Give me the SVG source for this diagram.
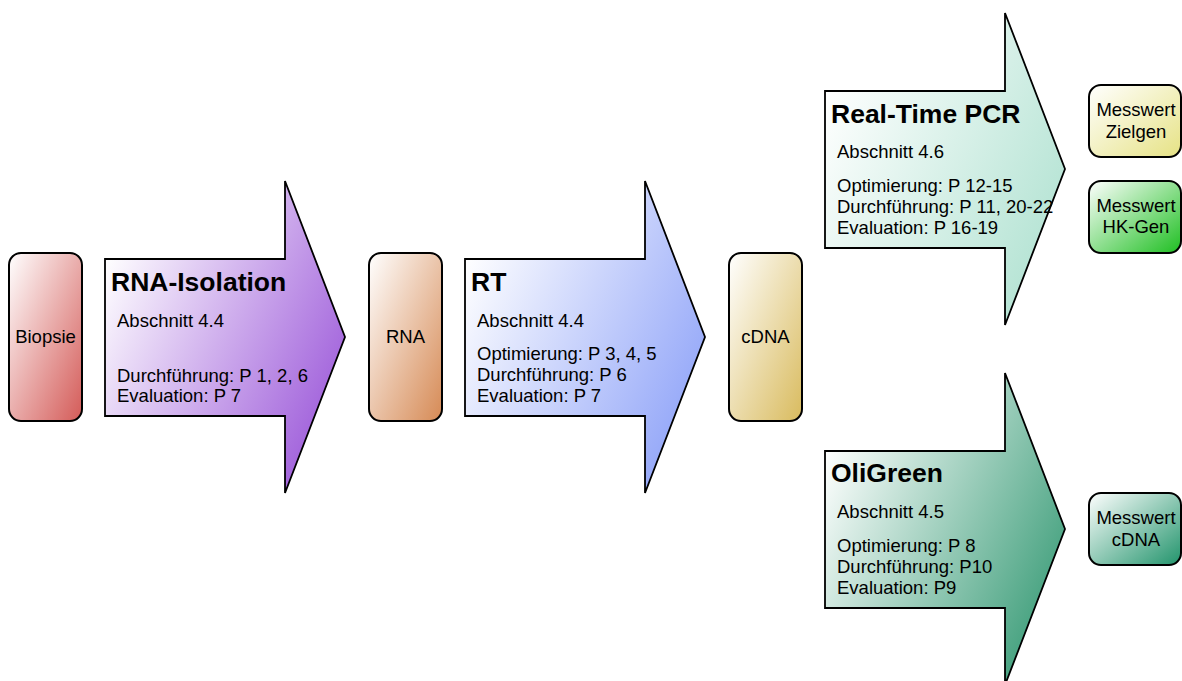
<svg xmlns="http://www.w3.org/2000/svg" width="1182" height="681" viewBox="0 0 1182 681">
<defs>
<linearGradient id="gRed" x1="0" y1="0" x2="1" y2="1"><stop offset="0" stop-color="#ffffff"/><stop offset="1" stop-color="#d45b58"/></linearGradient>
<linearGradient id="gOrange" x1="0" y1="0" x2="1" y2="1"><stop offset="0" stop-color="#ffffff"/><stop offset="1" stop-color="#d68a55"/></linearGradient>
<linearGradient id="gGold" x1="0" y1="0" x2="1" y2="1"><stop offset="0" stop-color="#ffffff"/><stop offset="1" stop-color="#d9bb5e"/></linearGradient>
<linearGradient id="gYellow" x1="0" y1="0" x2="1" y2="1"><stop offset="0" stop-color="#ffffff"/><stop offset="1" stop-color="#e6e284"/></linearGradient>
<linearGradient id="gGreen" x1="0" y1="0" x2="1" y2="1"><stop offset="0" stop-color="#ffffff"/><stop offset="1" stop-color="#1fbf22"/></linearGradient>
<linearGradient id="gTeal" x1="0" y1="0" x2="1" y2="1"><stop offset="0" stop-color="#ffffff"/><stop offset="1" stop-color="#22946c"/></linearGradient>
<linearGradient id="gPurple" x1="0" y1="0.25" x2="1" y2="0.85"><stop offset="0" stop-color="#ffffff"/><stop offset="1" stop-color="#9852d8"/></linearGradient>
<linearGradient id="gBlue" x1="0" y1="0.25" x2="1" y2="0.85"><stop offset="0" stop-color="#ffffff"/><stop offset="1" stop-color="#8a9ff8"/></linearGradient>
<linearGradient id="gMint" x1="0" y1="0.25" x2="1" y2="0.85"><stop offset="0" stop-color="#ffffff"/><stop offset="1" stop-color="#aee1d0"/></linearGradient>
<linearGradient id="gSea" x1="0" y1="0.25" x2="1" y2="0.85"><stop offset="0" stop-color="#ffffff"/><stop offset="1" stop-color="#329872"/></linearGradient>
<path id="arrowShape" d="M105,259 L285,259 L285,181 L345,337 L285,493 L285,416 L105,416 Z"/>
</defs>
<style>
.box{stroke:#000;stroke-width:2}
.arr{stroke:#000;stroke-width:1.8;stroke-linejoin:miter}
.t{font-family:"Liberation Sans",Arial,sans-serif;font-size:18.5px;fill:#000}
.c{text-anchor:middle}
.h{font-family:"Liberation Sans",Arial,sans-serif;font-size:26.5px;font-weight:bold;fill:#000}
</style>
<rect width="1182" height="681" fill="#ffffff"/>
<g id="connectors"/>
<g id="node-biopsie">
<rect class="box" x="9" y="253" width="73" height="168" rx="12" fill="url(#gRed)"/>
<text class="t c" x="45.5" y="343">Biopsie</text>
</g>
<g id="node-rna-isolation">
<use href="#arrowShape" class="arr" fill="url(#gPurple)"/>
<text class="h" x="111" y="291">RNA-Isolation</text>
<text class="t" x="117" y="327">Abschnitt 4.4</text>
<text class="t" x="117" y="382">Durchführung: P 1, 2, 6</text>
<text class="t" x="117" y="402">Evaluation: P 7</text>
</g>
<g id="node-rna">
<rect class="box" x="369" y="253" width="73" height="168" rx="12" fill="url(#gOrange)"/>
<text class="t c" x="405.5" y="343">RNA</text>
</g>
<g id="node-rt">
<use href="#arrowShape" class="arr" fill="url(#gBlue)" transform="translate(360,0)"/>
<text class="h" x="471" y="291">RT</text>
<text class="t" x="477" y="327">Abschnitt 4.4</text>
<text class="t" x="477" y="360">Optimierung: P 3, 4, 5</text>
<text class="t" x="477" y="381">Durchführung: P 6</text>
<text class="t" x="477" y="402">Evaluation: P 7</text>
</g>
<g id="node-cdna">
<rect class="box" x="729" y="253" width="73" height="168" rx="12" fill="url(#gGold)"/>
<text class="t c" x="765.5" y="343">cDNA</text>
</g>
<g id="node-pcr">
<use href="#arrowShape" class="arr" fill="url(#gMint)" transform="translate(720,-168)"/>
<text class="h" x="831" y="123">Real-Time PCR</text>
<text class="t" x="837" y="158">Abschnitt 4.6</text>
<text class="t" x="837" y="192">Optimierung: P 12-15</text>
<text class="t" x="837" y="213">Durchführung: P 11, 20-22</text>
<text class="t" x="837" y="234">Evaluation: P 16-19</text>
</g>
<g id="node-oligreen">
<use href="#arrowShape" class="arr" fill="url(#gSea)" transform="translate(720,192)"/>
<text class="h" x="831" y="482">OliGreen</text>
<text class="t" x="837" y="518">Abschnitt 4.5</text>
<text class="t" x="837" y="552">Optimierung: P 8</text>
<text class="t" x="837" y="573">Durchführung: P10</text>
<text class="t" x="837" y="594">Evaluation: P9</text>
</g>
<g id="node-zielgen">
<rect class="box" x="1089" y="85" width="92" height="72" rx="12" fill="url(#gYellow)"/>
<text class="t c" x="1136" y="116">Messwert</text>
<text class="t c" x="1136" y="138">Zielgen</text>
</g>
<g id="node-hkgen">
<rect class="box" x="1089" y="181" width="92" height="72" rx="12" fill="url(#gGreen)"/>
<text class="t c" x="1136" y="212">Messwert</text>
<text class="t c" x="1136" y="233">HK-Gen</text>
</g>
<g id="node-messwert-cdna">
<rect class="box" x="1089" y="493" width="92" height="72" rx="12" fill="url(#gTeal)"/>
<text class="t c" x="1136" y="524">Messwert</text>
<text class="t c" x="1136" y="546">cDNA</text>
</g>
</svg>
